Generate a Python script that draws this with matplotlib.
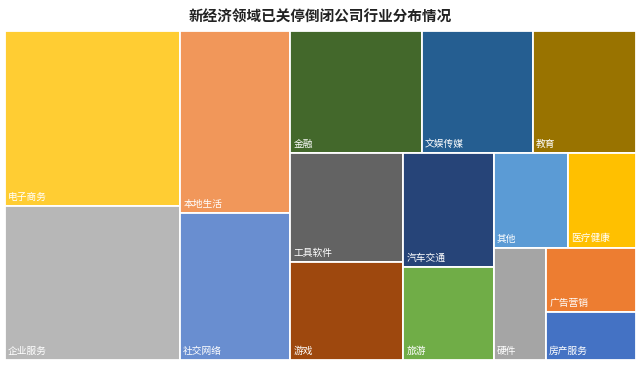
import matplotlib
matplotlib.use('Agg')
import matplotlib.pyplot as plt
from matplotlib.patches import Rectangle

plt.rcParams['font.family'] = ['Noto Sans CJK SC', 'DejaVu Sans']

title = '新经济领域已关停倒闭公司行业分布情况'
categories = ['房产服务', '广告营销', '硬件', '医疗健康', '其他', '旅游', '汽车交通', '游戏',
              '工具软件', '教育', '文娱传媒', '金融', '社交网络', '本地生活', '企业服务', '电子商务']
values = [43, 58, 59, 64, 71, 84, 103, 111, 123, 126, 135, 160, 162, 200, 270, 306]
colors = ['#4472C4', '#ED7D31', '#A5A5A5', '#FFC000', '#5B9BD5', '#70AD47', '#264478', '#9E480E',
          '#636363', '#997300', '#255E91', '#43682B', '#698ED0', '#F1975A', '#B7B7B7', '#FFCD33']

val = dict(zip(categories, values))
col = dict(zip(categories, colors))

# grouping of the treemap (h = side by side, v = stacked top to bottom)
layout = ('h', [
    ('v', ['电子商务', '企业服务']),
    ('v', ['本地生活', '社交网络']),
    ('v', [
        ('h', ['金融', '文娱传媒', '教育']),
        ('h', [
            ('v', ['工具软件', '游戏']),
            ('v', ['汽车交通', '旅游']),
            ('v', [
                ('h', ['其他', '医疗健康']),
                ('h', ['硬件', ('v', ['广告营销', '房产服务'])]),
            ]),
        ]),
    ]),
])


def total(node):
    if isinstance(node, str):
        return val[node]
    return sum(total(c) for c in node[1])


rects = []


def place(node, x, y, w, h):
    if isinstance(node, str):
        rects.append((node, x, y, w, h))
        return
    d, children = node
    s = total(node)
    pos = 0.0
    for c in children:
        f = total(c) / s
        if d == 'h':
            place(c, x + pos * w, y, f * w, h)
        else:
            place(c, x, y + pos * h, w, f * h)
        pos += f


place(layout, 0.0, 0.0, 1.0, 1.0)

fig = plt.figure(figsize=(6.4, 3.66), dpi=100)
ax = fig.add_axes([5 / 640, 6 / 366, 631 / 640, 329 / 366])
ax.set_xlim(0, 1)
ax.set_ylim(1, 0)
ax.axis('off')

for name, x, y, w, h in rects:
    ax.add_patch(Rectangle((x, y), w, h, facecolor=col[name], edgecolor='white', linewidth=1.3))
    ax.annotate(name, xy=(x, y + h), xytext=(2.2, 3), textcoords='offset points',
                ha='left', va='bottom', color='white', fontsize=7)

fig.text(0.5, 1 - 17 / 366, title, ha='center', va='center', fontsize=10.5, fontweight='bold',
         color='#222222')

fig.savefig('out.png', dpi=100)
